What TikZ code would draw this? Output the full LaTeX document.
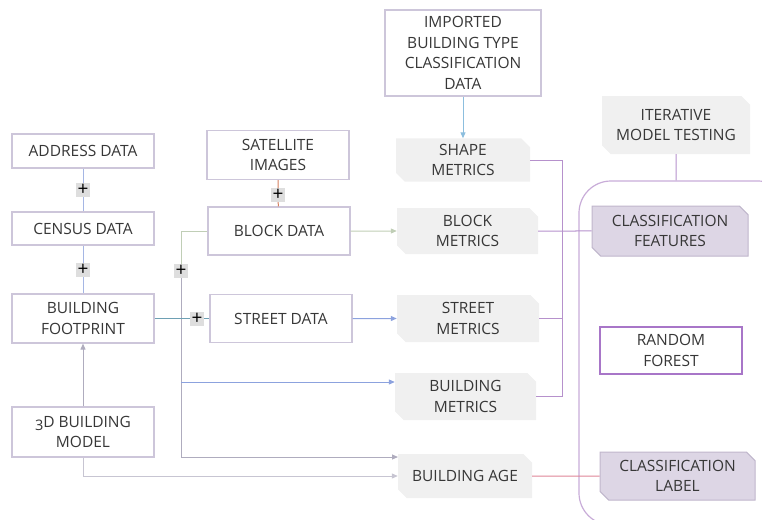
\documentclass[tikz,border=0pt]{standalone}
\usepackage{fontspec}
\setmainfont{Open Sans}
\usetikzlibrary{shapes.misc,arrows.meta}
\definecolor{boxline}{RGB}{205,198,218}
\definecolor{metricfill}{RGB}{240,240,240}
\definecolor{classfill}{RGB}{221,214,229}
\definecolor{classline}{RGB}{192,182,204}
\definecolor{forestline}{RGB}{168,118,200}
\definecolor{frameline}{RGB}{200,172,216}
\definecolor{busline}{RGB}{182,145,204}
\definecolor{addrline}{RGB}{165,182,228}
\definecolor{blockline}{RGB}{192,206,182}
\definecolor{satline}{RGB}{212,128,96}
\definecolor{streetline}{RGB}{140,162,222}
\definecolor{importline}{RGB}{140,190,222}
\definecolor{grayline}{RGB}{175,172,190}
\definecolor{ageline}{RGB}{222,132,150}
\definecolor{footline}{RGB}{110,160,180}
\definecolor{plusfill}{RGB}{222,222,222}
\definecolor{txt}{RGB}{55,55,55}
\begin{document}
\begin{tikzpicture}[x=1pt,y=-1pt,
  every node/.style={font=\fontsize{15.5}{20.5}\selectfont,text=txt,align=center,inner sep=2pt},
  databox/.style={draw=boxline,line width=1.2pt,fill=white,minimum width=142pt},
  metricbox/.style={chamfered rectangle,chamfered rectangle corners={north east,south west},
    chamfered rectangle xsep=5pt,fill=metricfill,minimum width=136pt},
  classbox/.style={chamfered rectangle,chamfered rectangle corners={north east,south west},
    chamfered rectangle xsep=5pt,fill=classfill,draw=classline,line width=1pt,minimum width=152pt},
  plusbox/.style={fill=plusfill,minimum size=14pt,inner sep=0pt,font=\fontsize{19}{19}\selectfont,text=black},
  link/.style={line width=1pt},
  tip/.style={-{Triangle[length=6pt,width=5pt]}}]
\useasboundingbox (0,0) rectangle (762,519);
\node[draw=frameline,line width=1.2pt,rounded corners=32pt,minimum width=211pt,minimum height=344pt] (frame) at (684.5,353) {};
% sources
\node[databox,minimum height=34pt] (addr) at (83,151) {ADDRESS DATA};
\node[databox,minimum height=33pt] (census) at (83,228.5) {CENSUS DATA};
\node[databox,minimum height=49pt] (foot) at (83,318.5) {BUILDING\\FOOTPRINT};
\node[databox,minimum height=50pt] (model) at (83,432) {\raisebox{-3.5pt}{\fontsize{14.5}{14.5}\selectfont 3}D BUILDING\\MODEL};
\node[databox,minimum height=49pt] (sat) at (278,155) {SATELLITE\\IMAGES};
\node[databox,minimum height=48pt] (block) at (279,231) {BLOCK DATA};
\node[databox,minimum height=48pt] (street) at (281,318.5) {STREET DATA};
\node[databox,minimum width=156pt,minimum height=86pt] (imported) at (463,53) {IMPORTED\\BUILDING TYPE\\CLASSIFICATION\\DATA};
% metrics
\node[metricbox,minimum width=134pt,minimum height=43pt] (shape) at (463,160) {SHAPE\\METRICS};
\node[metricbox,minimum width=141pt,minimum height=46pt] (bmet) at (467.5,231) {BLOCK\\METRICS};
\node[metricbox,minimum width=142pt,minimum height=47pt] (smet) at (468,318.5) {STREET\\METRICS};
\node[metricbox,minimum width=141pt,minimum height=47pt] (bdmet) at (465.5,396.5) {BUILDING\\METRICS};
\node[metricbox,minimum width=134pt,minimum height=44pt] (age) at (465,476) {BUILDING AGE};
\node[metricbox,minimum width=148pt,minimum height=58pt] (iter) at (676,125) {ITERATIVE\\MODEL TESTING};
% model
\node[classbox,minimum width=156pt,minimum height=50pt] (feat) at (670,231) {CLASSIFICATION\\FEATURES};
\node[draw=forestline,line width=1.2pt,fill=white,minimum width=142pt,minimum height=47pt] (forest) at (671,350.5) {RANDOM\\FOREST};
\node[classbox,minimum width=155pt,minimum height=48pt] (label) at (677.5,476) {CLASSIFICATION\\LABEL};
% joins
\node[plusbox] (p1) at (83,190) {+};
\node[plusbox] (p2) at (83,270) {+};
\node[plusbox] (p3) at (278,195) {+};
\node[plusbox] (p4) at (181,271) {+};
\node[plusbox] (p5) at (197,318.5) {+};
\coordinate (split) at (181,382);
\coordinate (turn) at (181,457);
\coordinate (agein) at (398,457);
\coordinate (bustop) at (562,160);
\coordinate (busbot) at (562,396.5);
\draw[link,addrline] (addr) -- (p1) -- (census) -- (p2) -- (foot);
\draw[link,satline] (sat) -- (p3) -- (block);
\draw[link,blockline] (block.west) -| (p4);
\draw[link,grayline,tip] (p4) -- (turn) -- (agein);
\draw[link,streetline,tip] (split) -- (split -| bdmet.west);
\draw[link,footline] (foot) -- (p5) -- (street);
\draw[link,grayline,tip] (model) -- (foot);
\draw[link,grayline!70,tip] (model) |- (age);
\draw[link,blockline,tip] (block) -- (bmet);
\draw[link,streetline,tip] (street) -- (smet);
\draw[link,importline,tip] (imported) -- (shape);
\draw[link,busline] (shape.east) -- (bustop) -- (busbot) -- (bdmet.east);
\draw[link,busline] (smet.east) -- (smet.east -| bustop);
\draw[link,busline] (bmet) -- (feat);
\draw[link,busline] (iter) -- (iter |- frame.north);
\draw[link,ageline] (age) -- (label);
\end{tikzpicture}
\end{document}
